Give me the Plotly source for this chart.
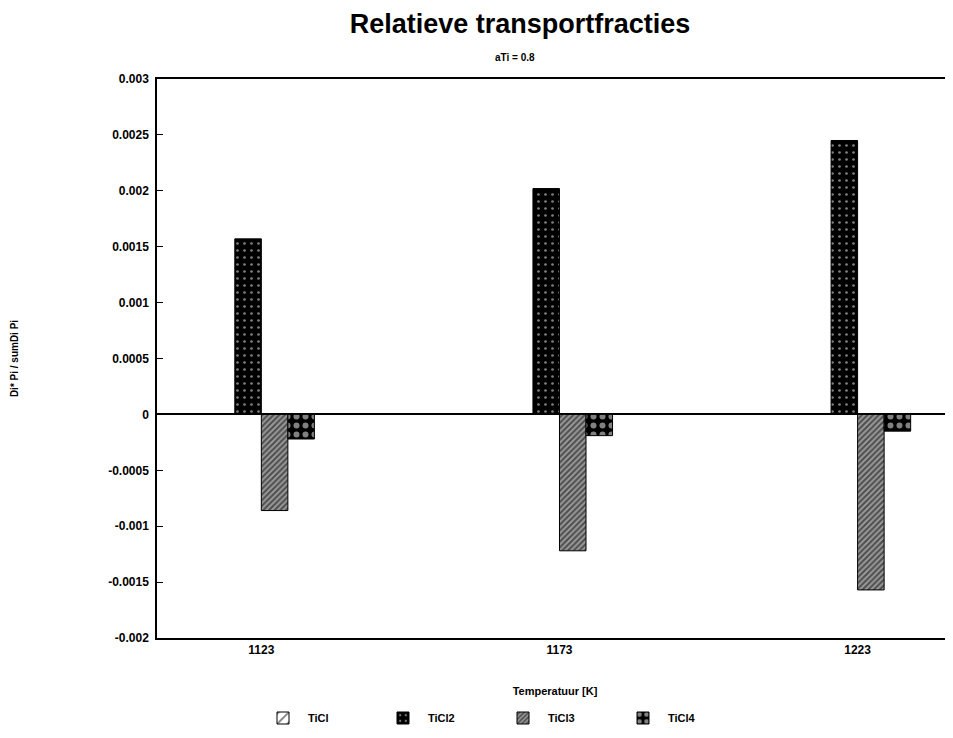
import plotly.graph_objects as go

temperatures = ["1123", "1173", "1223"]
series_names = ["TiCl", "TiCl2", "TiCl3", "TiCl4"]
ticl = [0.0, 0.0, 0.0]
ticl2 = [0.00157, 0.00202, 0.00245]
ticl3 = [-0.00086, -0.00122, -0.00157]
ticl4 = [-0.00022, -0.00019, -0.00015]
y_ticks = [0.003, 0.0025, 0.002, 0.0015, 0.001, 0.0005, 0, -0.0005, -0.001, -0.0015, -0.002]
y_tick_labels = ["0.003", "0.0025", "0.002", "0.0015", "0.001", "0.0005", "0",
                 "-0.0005", "-0.001", "-0.0015", "-0.002"]

FONT = "Liberation Sans, Arial, sans-serif"

patterns = [
    dict(shape="/", fgcolor="black", bgcolor="white", size=9, solidity=0.25),
    dict(shape=".", fgcolor="white", bgcolor="black", size=7, solidity=0.12),
    dict(shape="/", fgcolor="black", bgcolor="#9a9a9a", size=4, solidity=0.5),
    dict(shape=".", fgcolor="white", bgcolor="black", size=9, solidity=0.35),
]
values = [ticl, ticl2, ticl3, ticl4]

# page body has an 8px margin, so the figure is 8px smaller and positions shifted
W, H = 945, 730
L, T, B = 149, 71, 100
PW, PH = W - L, H - T - B

fig = go.Figure()
for name, vals, pat in zip(series_names, values, patterns):
    fig.add_trace(go.Bar(
        x=temperatures, y=vals, name=name,
        marker=dict(color=pat["bgcolor"], pattern=pat, line=dict(color="black", width=1)),
    ))

fig.update_layout(
    width=W, height=H,
    paper_bgcolor="white", plot_bgcolor="white",
    margin=dict(l=L, r=0, t=T, b=B, autoexpand=False),
    barmode="group", bargap=0.644, bargroupgap=0,
    font=dict(family=FONT, size=11, color="black", weight="bold"),
    title=dict(text="Relatieve transportfracties", x=512 / W, xanchor="center",
               y=1 - 16 / H, yanchor="middle",
               font=dict(size=27, family=FONT, color="black", weight="bold")),
    showlegend=True,
    legend=dict(orientation="h", x=(250 - L) / PW, xanchor="left",
                y=-(710 - T - PH) / PH, yanchor="middle",
                font=dict(size=11, family=FONT, weight="bold"), traceorder="normal",
                itemwidth=40, entrywidth=65),
    xaxis=dict(type="category", range=[-0.35, 2.32], showline=True, mirror=True,
               linecolor="black", linewidth=1.5, ticks="", showgrid=False,
               tickfont=dict(size=12, weight="bold"),
               title=dict(text="Temperatuur [K]", standoff=31, font=dict(size=11, weight="bold"))),
    yaxis=dict(range=[-0.002, 0.003], tickvals=y_ticks, ticktext=y_tick_labels,
               showline=True, linecolor="black", linewidth=1.5, ticks="inside", ticklen=6,
               tickcolor="black", showgrid=False, zeroline=True, zerolinecolor="black",
               zerolinewidth=1.5, tickfont=dict(size=12, weight="bold"), ticklabelstandoff=4,
               title=dict(text="Di* Pi / sumDi Pi", standoff=88, font=dict(size=10, weight="bold"))),
)
fig.add_annotation(text="aTi = 0.8", xref="paper", yref="paper",
                   x=(507 - L) / PW, y=1 + 29 / PH, showarrow=False,
                   font=dict(size=10, family=FONT, weight="bold"))

fig.write_html("out.html")
